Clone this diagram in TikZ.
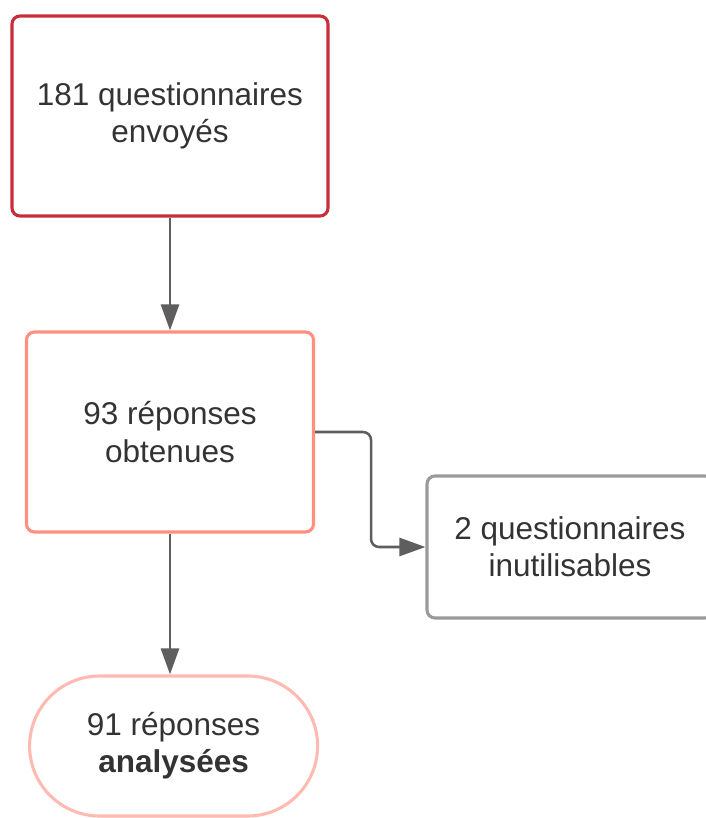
\documentclass[tikz,border=0pt]{standalone}
\usepackage{fontspec}
\setmainfont{Liberation Sans}
\usetikzlibrary{positioning,arrows.meta}
\definecolor{sentred}{HTML}{C92D39}
\definecolor{gotsalmon}{HTML}{FF8F80}
\definecolor{badgray}{HTML}{9A9A9A}
\definecolor{keptpink}{HTML}{FFBBB1}
\definecolor{linkgray}{HTML}{5E5E5E}
\definecolor{txtgray}{HTML}{333333}

\begin{document}
\begin{tikzpicture}[node distance=7.9cm,on grid,
  box/.style={draw,line width=2.2pt,rounded corners=0.2cm,align=center,text=txtgray,
    font=\fontsize{22.4}{26.5}\selectfont},
  link/.style={draw=linkgray,line width=1.8pt,-{Triangle[length=0.65cm,width=0.45cm]}}]
\useasboundingbox (0,0) rectangle (17.625,-20.45);
\node[box, draw=sentred, minimum width=7.9cm, minimum height=5cm] (sent) at (4.25,-2.9) {181 questionnaires\\envoyés};
\node[box, draw=gotsalmon, minimum width=7.175cm, minimum height=5cm] (got) [below=of sent] {93 réponses\\obtenues};
\node[box, draw=badgray, minimum width=7.15cm, minimum height=3.55cm] (bad) [below right=2.875cm and 10.0cm of got] {2 questionnaires\\inutilisables};
\node[box, draw=keptpink, rounded corners=1.75cm, minimum width=7.2cm, minimum height=3.5cm] (kept) [below=7.85cm of got, xshift=0.09cm] {91 réponses\\\textbf{analysées}};
\draw[link] (sent) -- (got);
\draw[link] (got.south) -- (got.south |- kept.north);
\draw[link, rounded corners=0.2cm] (got.east) -- ++(1.4,0) |- (bad.west);
\end{tikzpicture}
\end{document}
